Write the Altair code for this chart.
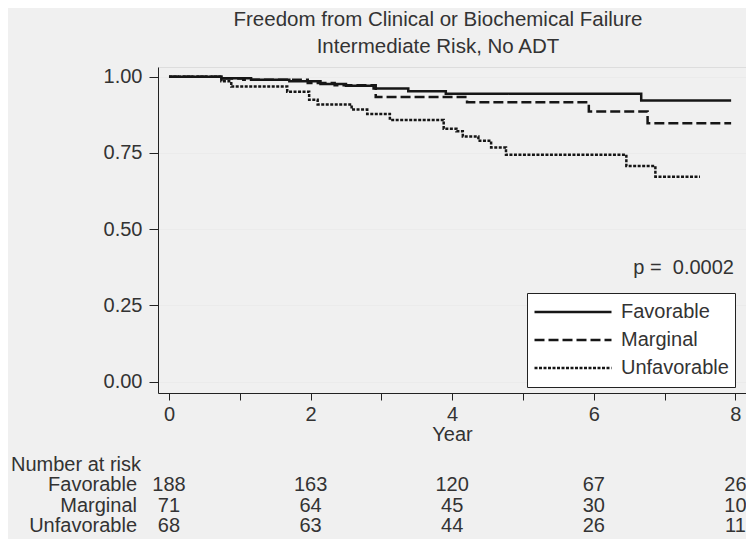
import altair as alt
import pandas as pd

# ---- data ----
groups = ["Favorable", "Marginal", "Unfavorable"]

fav_t = [0, 0.74, 1.16, 1.70, 2.14, 2.50, 2.89, 3.38, 3.91, 6.67, 7.94]
fav_s = [1.0, 0.995, 0.990, 0.985, 0.976, 0.970, 0.961, 0.952, 0.944, 0.922, 0.922]

mar_t = [0, 0.77, 1.05, 1.96, 2.34, 2.92, 4.21, 5.93, 6.76, 7.94]
mar_s = [1.0, 0.994, 0.990, 0.979, 0.972, 0.933, 0.916, 0.886, 0.847, 0.847]

unf_t = [0, 0.74, 0.88, 1.67, 1.98, 2.10, 2.58, 2.80, 3.12, 3.88, 4.06, 4.15,
         4.37, 4.55, 4.76, 6.46, 6.87, 7.50]
unf_s = [1.0, 0.985, 0.968, 0.951, 0.924, 0.909, 0.892, 0.878, 0.858, 0.829, 0.821,
         0.804, 0.790, 0.768, 0.744, 0.707, 0.672, 0.672]

risk_times = [0, 2, 4, 6, 8]
fav_n = [188, 163, 120, 67, 26]
mar_n = [71, 64, 45, 30, 10]
unf_n = [68, 63, 44, 26, 11]

title_lines = ["Freedom from Clinical or Biochemical Failure", "Intermediate Risk, No ADT"]
p_label = "p =\u00a0\u00a00.0002"
p_t, p_s = 7.98, 0.372
risk_header = "Number at risk"
x_ticks = [0, 1, 2, 3, 4, 5, 6, 7, 8]
y_ticks = [0, 0.25, 0.5, 0.75, 1.0]

# ---- tables ----
rows = []
for g, ts, ss in zip(groups, [fav_t, mar_t, unf_t], [fav_s, mar_s, unf_s]):
    for t, s in zip(ts, ss):
        rows.append({"t": t, "s": s, "group": g})
curves = pd.DataFrame(rows)

risk_rows = []
for g, ns in zip(groups, [fav_n, mar_n, unf_n]):
    for t, n in zip(risk_times, ns):
        risk_rows.append({"row": g, "t": t, "n": n})
risk = pd.DataFrame(risk_rows)

TXT = "#333333"
FS = 20

x_scale = alt.Scale(domain=[-0.155, 8.15], nice=False, zero=False)
y_scale = alt.Scale(domain=[-0.0377, 1.0318], nice=False, zero=False)
x_axis = alt.Axis(values=x_ticks, labelExpr="datum.value % 2 == 0 ? datum.label : ''",
                  format="d", tickSize=7, labelFontSize=20, labelColor=TXT,
                  labelPadding=4, domainColor="#222222", tickColor="#222222",
                  title="Year", titleFontSize=FS, titleFontWeight="normal",
                  titleColor=TXT, titlePadding=0, grid=False, labelFlush=False)
row_scale = alt.Scale(type="point", domain=[risk_header] + groups, range=[398, 459], padding=0)

lines = alt.Chart(curves).mark_line(interpolate="step-after", strokeWidth=2.5,
                                    color="#161616").encode(
    x=alt.X("t:Q", scale=x_scale, axis=x_axis),
    y=alt.Y("s:Q", scale=y_scale,
            axis=alt.Axis(values=y_ticks, format=".2f", tickSize=9, labelPadding=7,
                          labelFontSize=20, labelColor=TXT, domainColor="#222222",
                          tickColor="#222222", title=None, grid=True,
                          gridColor="#ebebeb", gridWidth=1)),
    strokeDash=alt.StrokeDash(
        "group:N",
        scale=alt.Scale(domain=groups, range=[[1, 0], [10, 4], [3, 1.5]]),
        legend=alt.Legend(orient="none", legendX=369, legendY=226, title=None,
                          fillColor="white", strokeColor="#222222", padding=6,
                          symbolType="stroke", symbolSize=5929, symbolStrokeWidth=2.5,
                          symbolStrokeColor="#161616", labelFontSize=FS,
                          labelColor=TXT, labelOffset=8, clipHeight=26,
                          rowPadding=2, labelLimit=220),
    ),
)

ptext = alt.Chart(pd.DataFrame({"t": [p_t], "s": [p_s], "label": [p_label]})).mark_text(
    align="right", baseline="middle", fontSize=FS, color=TXT).encode(
    x=alt.X("t:Q", scale=x_scale, axis=x_axis),
    y=alt.Y("s:Q", scale=y_scale, axis=None),
    text="label:N",
)

numbers = alt.Chart(risk).mark_text(align="center", baseline="middle", fontSize=FS,
                                    color=TXT).encode(
    x=alt.X("t:Q", scale=x_scale, axis=x_axis),
    y=alt.Y("row:N", scale=row_scale, axis=None),
    text="n:Q",
)

row_labels = alt.Chart(pd.DataFrame({"row": groups})).mark_text(
    align="right", baseline="middle", fontSize=FS, color=TXT).encode(
    x=alt.value(-21),
    y=alt.Y("row:N", scale=row_scale, axis=None),
    text="row:N",
)

header = alt.Chart(pd.DataFrame({"row": [risk_header]})).mark_text(
    align="left", baseline="middle", fontSize=FS, color=TXT).encode(
    x=alt.value(-147),
    y=alt.Y("row:N", scale=row_scale, axis=None),
    text="row:N",
)

chart = alt.layer(lines, ptext, numbers, row_labels, header).resolve_scale(
    y="independent"
).properties(
    width=588,
    height=326,
    title=alt.Title(title_lines, fontSize=20.5, fontWeight="normal", color=TXT,
                    anchor="middle", lineHeight=27, offset=9, dx=-14),
    autosize=alt.AutoSizeParams(type="none"),
    padding={"left": 150, "top": 59, "right": 0, "bottom": 146},
    background="#f0f0f0",
).configure_view(fill="white", strokeWidth=0).configure(font="Liberation Sans")

chart.save("out.html", embed_options={"renderer": "svg", "actions": False})
